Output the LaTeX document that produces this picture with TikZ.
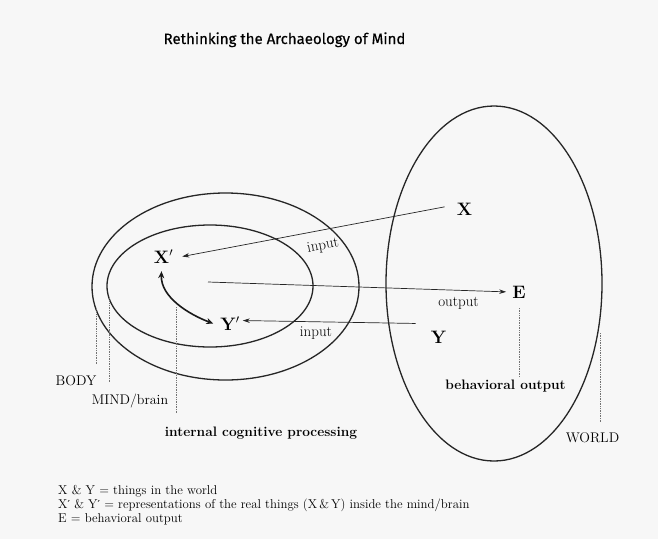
\documentclass[tikz,border=0pt]{standalone}
\usepackage{fontspec}
\newfontfamily\titlefont[FakeBold=0.4]{Fira Sans}
\newfontfamily\primefont{DejaVu Serif}
\newcommand{\pr}{{\primefont\fontsize{11}{14}\selectfont ′}}
\usetikzlibrary{arrows.meta,shapes.geometric}
\begin{document}
\begin{tikzpicture}[x=1pt,y=-1pt,
  ell/.style={draw=black!85, line width=1.3pt, ellipse, inner sep=0pt},
  arr/.style={draw=black!85, line width=0.7pt, -{Stealth[length=7pt,width=4.5pt]}},
  curv/.style={draw=black!90, line width=1.6pt, {Stealth[length=7pt,width=6pt]}-{Stealth[length=7pt,width=6pt]}},
  dotline/.style={draw=black!55, line width=0.6pt, dash pattern=on 0.8pt off 0.9pt},
  lab/.style={font=\fontsize{14}{16}\selectfont, inner sep=0pt},
  blab/.style={font=\bfseries\fontsize{13.7}{16}\selectfont, inner sep=0pt},
  big/.style={font=\bfseries\fontsize{18}{20}\selectfont, inner sep=0pt},
  io/.style={font=\fontsize{15}{17}\selectfont, inner sep=0pt},
  leg/.style={font=\fontsize{12.8}{14}\selectfont, inner sep=0pt, anchor=base west}]
\useasboundingbox (0,0) rectangle (658,539);
\fill[black!3] (0,0) rectangle (658,539);

% title
\node[font=\titlefont\fontsize{15}{17}\selectfont, anchor=base, inner sep=0pt] (title) at (284.5,44) {Rethinking the Archaeology of Mind};

% ellipses
\node[ell, minimum width=267pt, minimum height=187pt] (body) at (225.5,286.5) {};
\node[ell, minimum width=206pt, minimum height=122pt] (mind) at (210,286) {};
\node[ell, minimum width=216pt, minimum height=355pt] (world) at (494,283.5) {};

% main labels
\node[big, anchor=base] (X) at (464.5,215) {X};
\node[big, anchor=base] (E) at (519,298) {E};
\node[big, anchor=base] (Y) at (438.5,343) {Y};
\node[big, anchor=base] (Xp) at (163.5,263) {X$'$};
\node[big, anchor=base] (Yp) at (230,330) {Y$'$};

% arrows
\coordinate (outS) at (208,282);
\draw[arr] ([xshift=-12pt,yshift=2pt]X.west) -- ([xshift=9pt]Xp.east);
\draw[arr] (outS) -- ([xshift=-6pt]E.west);
\draw[arr] ([xshift=-15pt,yshift=7pt]Y.north west) -- ([xshift=3pt,yshift=3pt]Yp.east);
\draw[curv] ([xshift=-2pt,yshift=-8pt]Xp.south) .. controls +(-1,26) and +(-24,-9) .. ([xshift=-7pt]Yp.west);

% arrow labels
\node[io, rotate=10] (in1) at (323,246) {input};
\node[io] (in2) at (316,333) {input};
\node[io] (out) at (458.5,303.5) {output};

% bottom labels
\node[lab] (BODY) at (76,381) {BODY};
\node[lab, anchor=base] (MIND) at (130,404) {MIND/brain};
\node[blab, anchor=base] (icp) at (261,436) {internal cognitive processing};
\node[blab, anchor=base] (beh) at (505.5,389) {behavioral output};
\node[lab, anchor=base] (WORLD) at (592.5,442) {WORLD};

% dotted leader lines
\coordinate (bA) at (96,309);   \coordinate (bB) at (96,365);
\coordinate (mA) at (109,298);  \coordinate (mB) at (109,382);
\coordinate (iA) at (176,307);  \coordinate (iB) at (176,413);
\coordinate (eA) at (519,308);  \coordinate (eB) at (519,377);
\coordinate (wA) at (600,333);  \coordinate (wB) at (600,422);
\draw[dotline] (bA) -- (bB);
\draw[dotline] (mA) -- (mB);
\draw[dotline] (iA) -- (iB);
\draw[dotline] (eA) -- (eB);
\draw[dotline] (wA) -- (wB);

% legend
\node[leg] (leg1) at (58,494) {X \& Y = things in the world};
\node[leg] (leg2) at (58,508) {X\pr{} \& Y\pr{} = representations of the real things (X\,\&\,Y) inside the mind/brain};
\node[leg] (leg3) at (58,522) {E = behavioral output};
\end{tikzpicture}
\end{document}
